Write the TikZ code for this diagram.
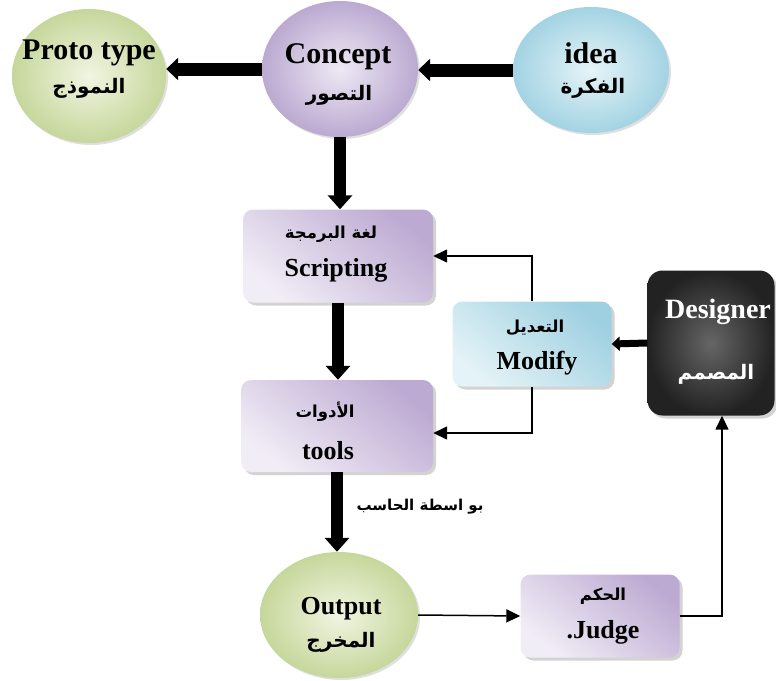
\documentclass[tikz,border=0pt]{standalone}
\usepackage{fontspec}
\setmainfont{Liberation Serif}
\newfontfamily\arabicfont[Script=Arabic]{DejaVu Sans}
\TeXXeTstate=1
\usetikzlibrary{shapes.geometric,shadows,arrows.meta}
\definecolor{grnOut}{HTML}{C6D79B}
\definecolor{grnIn}{HTML}{F1F5E2}
\definecolor{lavOut}{HTML}{BBA9D1}
\definecolor{lavIn}{HTML}{EEE9F4}
\definecolor{cyanOut}{HTML}{A3D3E3}
\definecolor{cyanIn}{HTML}{E6F4F8}
\definecolor{boxDark}{HTML}{BDAAD2}
\definecolor{boxLight}{HTML}{F1EDF6}
\definecolor{modDark}{HTML}{9FD0E1}
\definecolor{modLight}{HTML}{E4F3F7}
\definecolor{desOut}{HTML}{222222}
\definecolor{desIn}{HTML}{666666}
\tikzset{
  ell/.style={ellipse, inner sep=0pt, draw=none,
    drop shadow={shadow xshift=2pt, shadow yshift=-2pt, opacity=0.25}},
  greenell/.style={ell, inner color=grnIn, outer color=grnOut},
  lavell/.style={ell, inner color=lavIn, outer color=lavOut},
  cyanell/.style={ell, inner color=cyanIn, outer color=cyanOut},
  stepbox/.style={rectangle, rounded corners=10pt, inner sep=0pt, draw=none,
    drop shadow={shadow xshift=3pt, shadow yshift=-3pt, opacity=0.35}},
  lavbox/.style={stepbox, top color=boxDark, bottom color=boxLight, shading angle=-40},
  cyanbox/.style={stepbox, top color=modDark, bottom color=modLight, shading angle=-40},
  darkbox/.style={stepbox, rounded corners=15pt, inner color=desIn, outer color=desOut},
  entext/.style={font=\fontsize{30}{32}\selectfont\bfseries},
  destext/.style={font=\fontsize{28}{30}\selectfont\bfseries},
  boxtext/.style={font=\fontsize{26}{28}\selectfont\bfseries},
  artext/.style={font=\arabicfont\bfseries\fontsize{20}{22}\selectfont},
  arsmall/.style={font=\arabicfont\bfseries\fontsize{16.5}{18}\selectfont},
  arlabel/.style={font=\arabicfont\bfseries\fontsize{15}{17}\selectfont},
  bigarrow/.style={line width=12pt, -{Triangle[length=14pt,width=24pt]}},
  harrow/.style={line width=13pt, -{Triangle[length=12pt,width=22pt]}},
  midarrow/.style={line width=7pt, -{Triangle[length=8pt,width=14pt]}},
  thinarrow/.style={line width=1.5pt, -{Triangle[length=14pt,width=13pt]}},
}
\begin{document}
\begin{tikzpicture}[x=1pt,y=-1pt]
\useasboundingbox (0,0) rectangle (776,680);
% shapes
\node[greenell, minimum width=154pt, minimum height=134pt] (proto) at (89,76) {};
\node[lavell, minimum width=156pt, minimum height=136pt] (concept) at (340,69) {};
\node[cyanell, minimum width=156pt, minimum height=126pt] (idea) at (591,70) {};
\node[lavbox, minimum width=190pt, minimum height=93pt] (scripting) at (338,256) {};
\node[lavbox, minimum width=192pt, minimum height=92pt] (tools) at (337,426) {};
\node[cyanbox, minimum width=159pt, minimum height=85pt] (modify) at (532,344) {};
\node[darkbox, minimum width=127pt, minimum height=145pt] (designer) at (711,343) {};
\node[greenell, minimum width=158pt, minimum height=126pt] (output) at (339,615) {};
\node[lavbox, minimum width=159pt, minimum height=83pt] (judge) at (600,616) {};
% texts
\node[entext] (tproto) at (89,53) {Proto type};
\node[artext] (aproto) at (89,88) {\beginR النموذج\endR};
\node[entext] (tconcept) at (338,57) {Concept};
\node[artext] (aconcept) at (339,95) {\beginR التصور\endR};
\node[entext] (tidea) at (591,53) {idea};
\node[artext] (aidea) at (593,88) {\beginR الفكرة\endR};
\node[arsmall] (ascript) at (331,234) {\beginR لغة البرمجة\endR};
\node[boxtext] (tscript) at (336,270) {Scripting};
\node[arsmall] (atools) at (325,412) {\beginR الأدوات\endR};
\node[boxtext] (ttools) at (328,451) {tools};
\node[arsmall] (amod) at (535,328) {\beginR التعديل\endR};
\node[boxtext] (tmod) at (537,363) {Modify};
\node[destext, text=white] (tdes) at (718,312) {Designer};
\node[artext, text=white] (ades) at (716,374) {\beginR المصمم\endR};
\node[boxtext] (tout) at (341,609) {Output};
\node[artext] (aout) at (341,642) {\beginR المخرج\endR};
\node[arsmall] (ajudge) at (603,596) {\beginR الحكم\endR};
\node[boxtext] (tjudge) at (603,632) {.Judge};
\node[arlabel] (lbl) at (420,507) {\beginR بو اسطة الحاسب\endR};
% connectors
\draw[harrow] (idea.west) -- (concept.east |- idea.west);
\draw[harrow] (concept.west) -- (proto.east |- concept.west);
\draw[bigarrow] (concept.south) -- (concept.south |- scripting.north);
\draw[bigarrow] (scripting.south) -- (scripting.south |- tools.north);
\draw[bigarrow] (tools.south) -- (tools.south |- output.north);
\draw[thinarrow] (modify.north) |- (scripting.east);
\draw[thinarrow] (modify.south) |- ([yshift=-7pt]tools.east);
\draw[midarrow] (designer.west) -- (modify.east);
\draw[thinarrow] (output.east) -- (judge.west);
\draw[thinarrow] (judge.east) -| ([xshift=11pt]designer.south);
\end{tikzpicture}
\end{document}
